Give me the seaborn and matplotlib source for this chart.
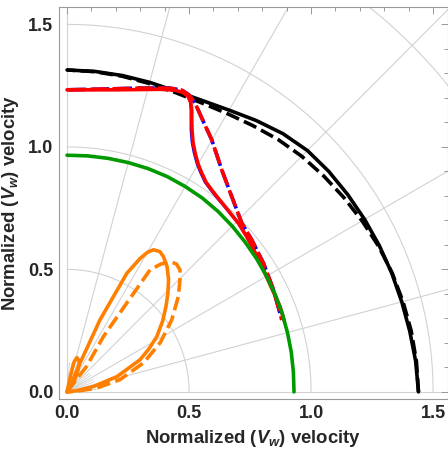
import numpy as np
import matplotlib
matplotlib.use("Agg")
import matplotlib.pyplot as plt
import seaborn as sns
from matplotlib.ticker import MultipleLocator

# polar curves read at 5 degree steps (angle from x axis)
angles = [0, 5, 10, 15, 20, 25, 30, 35, 40, 45, 50, 55, 60, 65, 70, 75, 80, 85, 90]
black_solid_r = [1.440, 1.434, 1.426, 1.420, 1.416, 1.412, 1.408, 1.404, 1.400, 1.393,
                 1.376, 1.352, 1.328, 1.312, 1.306, 1.308, 1.311, 1.313, 1.314]
black_dash_r = [1.440, 1.437, 1.432, 1.425, 1.418, 1.408, 1.396, 1.384, 1.372, 1.360,
                1.345, 1.327, 1.312, 1.302, 1.300, 1.303, 1.308, 1.312, 1.314]
green_r = [0.930, 0.931, 0.933, 0.935, 0.938, 0.941, 0.944, 0.948, 0.952, 0.957,
           0.962, 0.966, 0.968, 0.970, 0.970, 0.969, 0.968, 0.967, 0.966]

# cusped curves, read as x / y points
red_solid_x = [0.0, 0.20, 0.38, 0.44, 0.475, 0.497, 0.507, 0.511, 0.511, 0.512, 0.516, 0.525,
               0.537, 0.552, 0.570, 0.593, 0.620, 0.648, 0.675, 0.702, 0.736, 0.770, 0.805,
               0.840, 0.873, 0.890]
red_solid_y = [1.233, 1.233, 1.235, 1.232, 1.222, 1.205, 1.180, 1.151, 1.110, 1.069, 1.020, 0.974,
               0.930, 0.893, 0.855, 0.824, 0.790, 0.756, 0.722, 0.689, 0.634, 0.570, 0.498,
               0.420, 0.348, 0.290]
blue_solid_x = [0.0, 0.20, 0.38, 0.44, 0.475, 0.495, 0.503, 0.505, 0.505, 0.505, 0.509, 0.518,
                0.530, 0.545, 0.563, 0.586, 0.613, 0.642, 0.670, 0.698, 0.733, 0.768, 0.804,
                0.840, 0.873, 0.890]
blue_solid_y = red_solid_y
red_dash_x = [0.0, 0.15, 0.30, 0.42, 0.47, 0.500, 0.525, 0.560, 0.593, 0.634, 0.675, 0.716,
              0.757, 0.805, 0.846, 0.880]
red_dash_y = [1.233, 1.236, 1.240, 1.240, 1.232, 1.212, 1.178, 1.100, 1.029, 0.906, 0.797, 0.689,
              0.620, 0.525, 0.416, 0.294]

orange_solid_x = [0.0, 0.020, 0.053, 0.135, 0.245, 0.300, 0.330, 0.354, 0.380, 0.395, 0.410,
                  0.416, 0.413, 0.405, 0.392, 0.368, 0.335, 0.299, 0.204, 0.108, 0.040, 0.0]
orange_solid_y = [0.0, 0.040, 0.117, 0.294, 0.484, 0.545, 0.570, 0.580, 0.573, 0.552, 0.510,
                  0.457, 0.400, 0.348, 0.290, 0.226, 0.175, 0.131, 0.062, 0.022, 0.005, 0.0]
orange_dash_x = [0.0, 0.030, 0.080, 0.149, 0.245, 0.340, 0.385, 0.422, 0.448, 0.463, 0.462,
                 0.456, 0.429, 0.382, 0.314, 0.217, 0.120, 0.040, 0.0]
orange_dash_y = [0.0, 0.040, 0.104, 0.226, 0.363, 0.498, 0.522, 0.532, 0.522, 0.498, 0.450,
                 0.389, 0.294, 0.201, 0.119, 0.050, 0.015, 0.003, 0.0]
orange_spike_x = [0.0, 0.015, 0.028, 0.040, 0.050, 0.045, 0.030, 0.0]
orange_spike_y = [0.0, 0.070, 0.120, 0.140, 0.125, 0.090, 0.045, 0.0]

grid_radii = [0.5, 1.0, 1.5, 2.0]
grid_angles = [0, 15, 30, 45, 60, 75, 90]

sns.set_style("white")
plt.rcParams['font.family'] = ['Liberation Sans', 'DejaVu Sans']
plt.rcParams['font.weight'] = 'bold'
plt.rcParams['mathtext.fontset'] = 'custom'
plt.rcParams['mathtext.rm'] = 'Liberation Sans:bold'
plt.rcParams['mathtext.it'] = 'Liberation Sans:italic:bold'
plt.rcParams['mathtext.bf'] = 'Liberation Sans:bold'


def polar_xy(ang, r):
    t = np.radians(ang)
    return np.array(r) * np.cos(t), np.array(r) * np.sin(t)


fig = plt.figure(figsize=(4.48, 4.49), dpi=100)
ax = fig.add_axes([0.1317, 0.1114, 0.8683, 0.873])

# polar grid
gcol = '#d2d2d2'
tt = np.linspace(0, np.pi / 2, 200)
for rg in grid_radii:
    ax.plot(rg * np.cos(tt), rg * np.sin(tt), color=gcol, lw=0.8, zorder=0)
for ag in grid_angles:
    ax.plot([0, 2.5 * np.cos(np.radians(ag))], [0, 2.5 * np.sin(np.radians(ag))],
            color=gcol, lw=0.8, zorder=0)
for ag in range(5, 90, 5):
    if ag % 15:
        ax.plot([0, 0.12 * np.cos(np.radians(ag))], [0, 0.12 * np.sin(np.radians(ag))],
                color=gcol, lw=0.6, zorder=0)

lw = 2.6
dash = (3.8, 1.5)
rdash = (4.8, 1.5)

bx, by = polar_xy(angles, black_solid_r)
sns.lineplot(x=bx, y=by, sort=False, estimator=None, color='black', lw=lw, ax=ax)
bx, by = polar_xy(angles, black_dash_r)
sns.lineplot(x=bx, y=by, sort=False, estimator=None, color='black', lw=lw, ax=ax,
             linestyle=(0, dash))

sns.lineplot(x=blue_solid_x, y=blue_solid_y, sort=False, estimator=None, color='blue',
             lw=1.0, ax=ax)
sns.lineplot(x=red_dash_x, y=red_dash_y, sort=False, estimator=None, color='blue',
             lw=lw, ax=ax, linestyle=(5.7, rdash))
sns.lineplot(x=red_solid_x, y=red_solid_y, sort=False, estimator=None, color='red',
             lw=lw, ax=ax)
sns.lineplot(x=red_dash_x, y=red_dash_y, sort=False, estimator=None, color='red',
             lw=lw, ax=ax, linestyle=(0, rdash))

gx, gy = polar_xy(angles, green_r)
sns.lineplot(x=gx, y=gy, sort=False, estimator=None, color='#009a00', lw=lw, ax=ax)

ocol = '#ff8000'
sns.lineplot(x=orange_solid_x, y=orange_solid_y, sort=False, estimator=None, color=ocol,
             lw=lw, ax=ax)
sns.lineplot(x=orange_dash_x, y=orange_dash_y, sort=False, estimator=None, color=ocol,
             lw=lw, ax=ax, linestyle=(0, dash))
sns.lineplot(x=orange_spike_x, y=orange_spike_y, sort=False, estimator=None, color=ocol,
             lw=lw, ax=ax)

ax.set_xlim(-0.033, 1.561)
ax.set_ylim(-0.029, 1.571)
ax.xaxis.set_major_locator(MultipleLocator(0.5))
ax.yaxis.set_major_locator(MultipleLocator(0.5))
ax.xaxis.set_minor_locator(MultipleLocator(0.1))
ax.yaxis.set_minor_locator(MultipleLocator(0.1))
ax.xaxis.set_major_formatter(plt.FormatStrFormatter('%.1f'))
ax.yaxis.set_major_formatter(plt.FormatStrFormatter('%.1f'))
ax.tick_params(which='both', direction='in', top=True, right=True, color='#999999',
               width=0.7, labelsize=13)
ax.tick_params(which='major', length=5, pad=4)
ax.tick_params(which='minor', length=3)
for sp in ax.spines.values():
    sp.set_color('#999999')
    sp.set_linewidth(0.8)

ax.set_xlabel(r"Normalized ($V_w$) velocity", fontsize=13.3, fontweight='bold', labelpad=5)
ax.set_ylabel(r"Normalized ($V_w$) velocity", fontsize=13.3, fontweight='bold', labelpad=5)

fig.savefig("out.png", dpi=100)
